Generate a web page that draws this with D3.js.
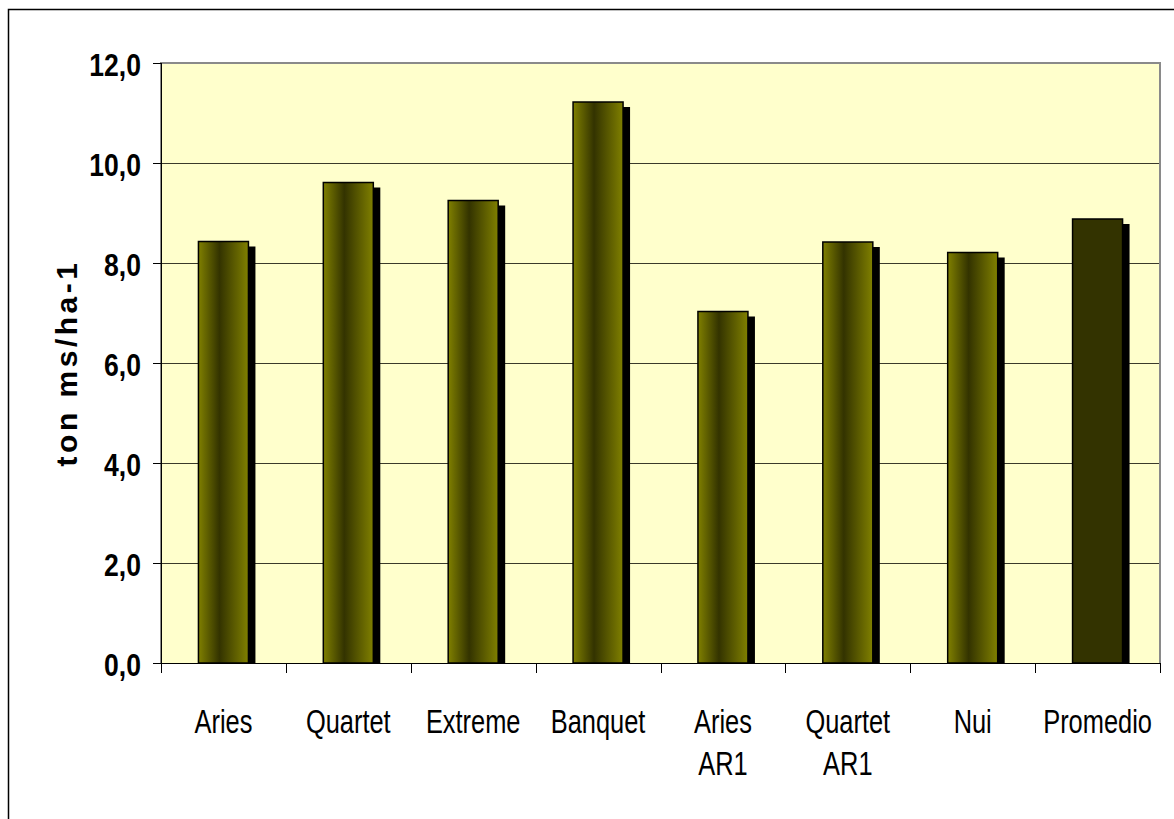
<!DOCTYPE html>
<html lang="es">
<head>
<meta charset="UTF-8">
<title>ton ms/ha-1</title>
<script src="https://d3js.org/d3.v7.min.js"></script>
<style>
    body { margin: 0; background: #fff; }
    svg { display: block; }
    .ytick text { font-family: "Liberation Sans", Arial, sans-serif; font-weight: bold; font-size: 32px; fill: #000; }
    .xlab { font-family: "Liberation Sans", Arial, sans-serif; font-size: 33px; fill: #000; }
    .ytitle { font-family: "Liberation Sans", Arial, sans-serif; font-weight: bold; font-size: 30px; letter-spacing: 3.5px; fill: #000; }
</style>
</head>
<body>
<svg id="chart" width="1174" height="819"></svg>
<script>
    const categories = [["Aries"], ["Quartet"], ["Extreme"], ["Banquet"], ["Aries", "AR1"], ["Quartet", "AR1"], ["Nui"], ["Promedio"]];
    const values = [8.43, 9.61, 9.25, 11.22, 7.03, 8.42, 8.21, 8.88];
    const yTicks = [0, 2, 4, 6, 8, 10, 12];

    const svg = d3.select('#chart');
    const plotL = 161, plotR = 1160, plotT = 63, plotB = 663;

    // outer frame
    svg.append('rect')
        .attr('x', 8.5).attr('y', 9.5)
        .attr('width', 1200).attr('height', 900)
        .attr('fill', 'none').attr('stroke', '#000').attr('stroke-width', 1.5);

    const keys = categories.map(c => c.join(' '));
    const x = d3.scaleBand().domain(keys).range([plotL, plotR]).paddingInner(0).paddingOuter(0);
    const y = d3.scaleLinear().domain([0, 12]).range([plotB, plotT]);

    const defs = svg.append('defs');
    const grad = defs.append('linearGradient').attr('id', 'cyl')
        .attr('x1', '0%').attr('x2', '100%').attr('y1', '0%').attr('y2', '0%');
    grad.append('stop').attr('offset', '0%').attr('stop-color', '#808000');
    grad.append('stop').attr('offset', '42%').attr('stop-color', '#333300');
    grad.append('stop').attr('offset', '100%').attr('stop-color', '#808000');

    // plot area
    svg.append('rect')
        .attr('x', plotL).attr('y', plotT)
        .attr('width', plotR - plotL).attr('height', plotB - plotT)
        .attr('fill', '#ffffcc');

    // gridlines
    svg.append('g').selectAll('line')
        .data(yTicks.filter(t => t > 0 && t < 12))
        .enter().append('line')
        .attr('x1', plotL).attr('x2', plotR)
        .attr('y1', d => Math.round(y(d)) + 0.5).attr('y2', d => Math.round(y(d)) + 0.5)
        .attr('stroke', '#3a3a2a').attr('stroke-width', 1);

    // plot border (gray) top, right, left
    svg.append('path')
        .attr('d', `M${plotL},${plotB} V${plotT} H${plotR} V${plotB}`)
        .attr('fill', 'none').attr('stroke', '#8a8a8a').attr('stroke-width', 2);

    const barW = 50;
    const bars = svg.append('g').selectAll('g')
        .data(values)
        .enter().append('g');

    // shadow
    bars.append('rect')
        .attr('x', (d, i) => x(keys[i]) + x.bandwidth() / 2 - barW / 2 + 7)
        .attr('y', d => y(d) + 5)
        .attr('width', barW)
        .attr('height', d => plotB - y(d) - 5)
        .attr('fill', '#000');

    bars.append('rect')
        .attr('x', (d, i) => x(keys[i]) + x.bandwidth() / 2 - barW / 2)
        .attr('y', d => y(d))
        .attr('width', barW)
        .attr('height', d => plotB - y(d))
        .attr('fill', (d, i) => i === values.length - 1 ? '#333300' : 'url(#cyl)')
        .attr('stroke', '#000').attr('stroke-width', 1.5);

    // x axis
    svg.append('line')
        .attr('x1', plotL).attr('x2', plotR)
        .attr('y1', plotB + 0.5).attr('y2', plotB + 0.5)
        .attr('stroke', '#000').attr('stroke-width', 1);
    const xTickPos = keys.map(k => x(k)).concat([plotR]);
    svg.append('g').selectAll('line')
        .data(xTickPos)
        .enter().append('line')
        .attr('x1', d => Math.round(d) + 0.5).attr('x2', d => Math.round(d) + 0.5)
        .attr('y1', plotB).attr('y2', plotB + 10)
        .attr('stroke', '#000');

    // condensed type: squeeze horizontally
    const xl = svg.append('g').selectAll('text')
        .data(categories)
        .enter().append('text')
        .attr('class', 'xlab')
        .attr('text-anchor', 'middle')
        .attr('transform', (d, i) => `translate(${x(keys[i]) + x.bandwidth() / 2},733) scale(0.77,1)`);
    xl.selectAll('tspan')
        .data(d => d)
        .enter().append('tspan')
        .attr('x', 0)
        .attr('dy', (d, i) => i === 0 ? 0 : 42)
        .text(d => d);

    // y axis
    svg.append('line')
        .attr('x1', plotL + 0.5).attr('x2', plotL + 0.5)
        .attr('y1', plotT).attr('y2', plotB)
        .attr('stroke', '#000').attr('stroke-width', 1);
    const yt = svg.append('g').attr('class', 'ytick').selectAll('g')
        .data(yTicks)
        .enter().append('g')
        .attr('transform', d => `translate(0,${Math.round(y(d)) + 0.5})`);
    yt.append('line')
        .attr('x1', plotL - 8).attr('x2', plotL)
        .attr('stroke', '#000');
    yt.append('text')
        .attr('transform', 'translate(141,12) scale(0.83,1)')
        .attr('text-anchor', 'end')
        .text(d => d3.format('.1f')(d).replace('.', ','));

    svg.append('text')
        .attr('class', 'ytitle')
        .attr('text-anchor', 'middle')
        .attr('transform', `translate(77,${(plotT + plotB) / 2}) rotate(-90)`)
        .text('ton ms/ha-1');
</script>
</body>
</html>
